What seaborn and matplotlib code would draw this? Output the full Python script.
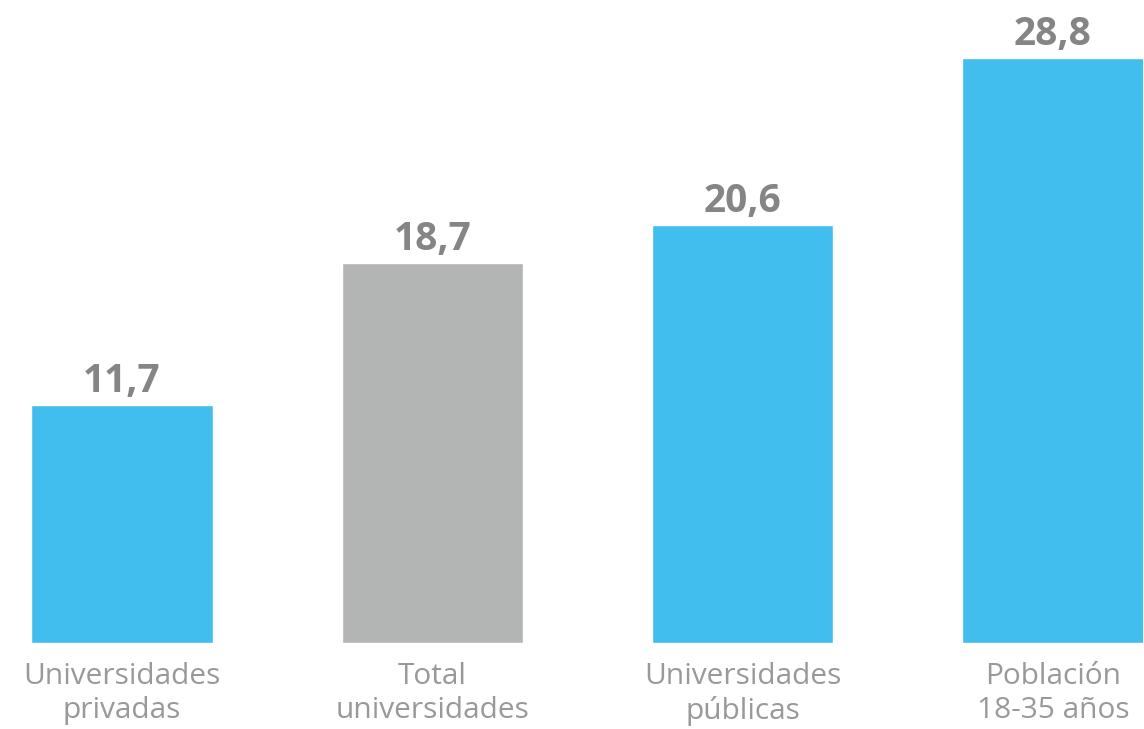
import matplotlib
matplotlib.use("Agg")
import matplotlib.pyplot as plt
import seaborn as sns
import pandas as pd

categories = ["Universidades\nprivadas", "Total\nuniversidades", "Universidades\npúblicas", "Población\n18-35 años"]
values = [11.7, 18.7, 20.6, 28.8]
value_labels = ["11,7", "18,7", "20,6", "28,8"]
bar_colors = ["#41BEEE", "#B3B5B4", "#41BEEE", "#41BEEE"]

sns.set_theme(style="white")
plt.rcParams['font.family'] = ['Open Sans', 'DejaVu Sans']

df = pd.DataFrame({"cat": categories, "val": values})

fig = plt.figure(figsize=(11.44, 7.29), dpi=100)
ax = fig.add_axes([32/1144, (729-643)/729, 1111/1144, 643/729])
sns.barplot(data=df, x="cat", y="val", hue="cat", palette=bar_colors,
            legend=False, width=0.584, saturation=1, ax=ax)

for i, (v, lab) in enumerate(zip(values, value_labels)):
    ax.text(i, v + 0.2, lab, ha="center", va="bottom", fontsize=28,
            fontweight="bold", color="#858585")

ax.set_xlim(-0.29, 3.29)
ax.set_ylim(0, 31.67)
ax.set_xlabel("")
ax.set_ylabel("")
ax.set_yticks([])
ax.tick_params(axis="x", length=0, pad=14, labelsize=21.5, labelcolor="#999999")
for t in ax.get_xticklabels():
    t.set_linespacing(1.2)
for s in ax.spines.values():
    s.set_visible(False)

fig.savefig("out.png", dpi=100)
